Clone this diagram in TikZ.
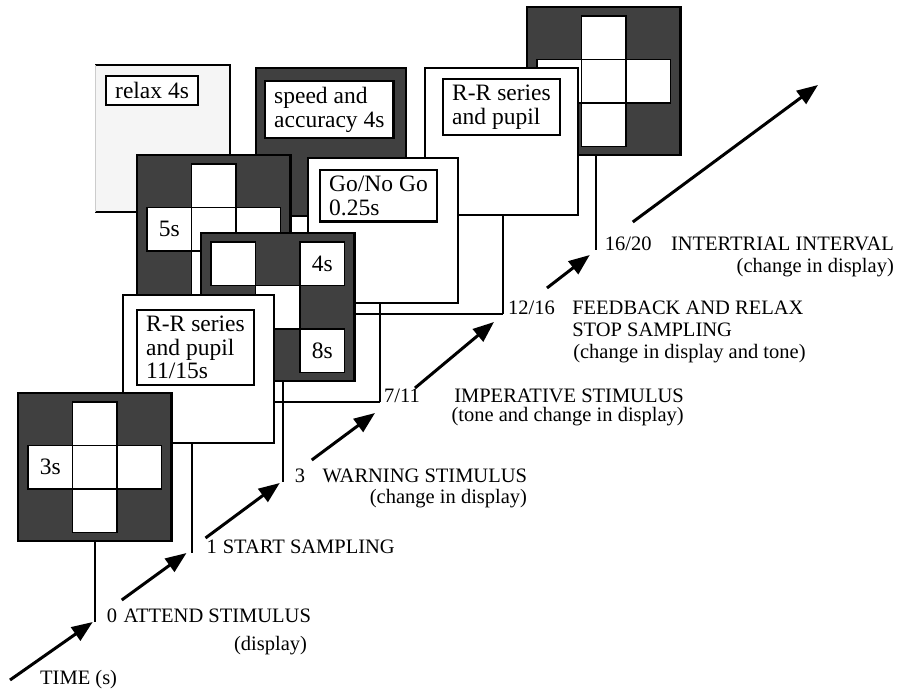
\documentclass[tikz,border=0pt]{standalone}
\usepackage{fontspec}
\setmainfont{Liberation Serif}
\usetikzlibrary{arrows.meta,positioning}

\definecolor{stipple}{gray}{0.25}
\definecolor{speckle}{gray}{0.96}

\pgfdeclarelayer{background}
\pgfsetlayers{background,main}

\tikzset{
  card/.style={draw, fill=white, line width=1.8pt, inner sep=0pt, outer sep=0pt, anchor=north west, minimum width=151pt, minimum height=148pt},
  darkcard/.style={card, fill=stipple, line width=2.2pt},
  gridframe/.style={darkcard, minimum width=153.5pt, minimum height=148pt},
  gridcell/.style={draw, fill=white, line width=1.5pt, inner sep=0pt, outer sep=0pt, anchor=north west, minimum width=44.5pt, minimum height=43.5pt},
  labelbox/.style={draw, fill=white, line width=2.4pt, anchor=north west, align=left, inner xsep=9pt, inner ysep=6pt, font=\fontsize{23.5}{23.5}\selectfont},
  celltext/.style={font=\fontsize{23.5}{23.5}\selectfont, inner sep=0pt},
  tick/.style={line width=2pt},
  timearrow/.style={line width=3pt, -{Triangle[length=21pt,width=16pt]}},
  tlabel/.style={font=\fontsize{20.5}{22}\selectfont, inner sep=0pt},
}

% display grid: name, top left corner, white cells as col/row
\newcommand{\dispgrid}[3]{%
  \node[gridframe] (#1) at (#2) {};
  \foreach \cx/\cy in {#3}
    \node[gridcell] (#1-\cx\cy) at ([shift={(10+44.5*\cx,9+43.5*\cy)}]#1.north west) {};
}

\begin{document}
\begin{tikzpicture}[x=1pt, y=-1pt]
\useasboundingbox (0,0) rectangle (903,691);

% cards, back to front
\node[card, draw=none, fill=speckle, minimum width=135pt, minimum height=147pt] (relax) at (95,65) {};
\draw[line width=1.8pt] (relax.north west) -- (relax.north east) -- (relax.south east) -- (relax.south west);
\draw[gray!40] (relax.south west) -- (relax.north west);
\node[labelbox] at ([shift={(10,10)}]relax.north west) {relax 4s};

\node[darkcard, minimum width=150pt] (speed) at (256,68) {};
\node[labelbox] at ([shift={(8,12)}]speed.north west) {speed and\\accuracy 4s};

\dispgrid{gtop}{527,7}{1/0,0/1,1/1,2/1,1/2}

\node[card, minimum width=153pt, minimum height=147pt] (rrup) at (425,68) {};
\node[labelbox] at ([shift={(17,10)}]rrup.north west) {R-R series\\and pupil};

\node[card, minimum width=150pt, minimum height=145pt] (gonogo) at (308,158) {};
\node[labelbox] at ([shift={(11,11)}]gonogo.north west) {Go/No Go\\0.25s};

\dispgrid{g5}{137,155}{1/0,0/1,1/1,2/1,1/2}
\node[celltext] at (g5-01) {5s};

\dispgrid{g4}{201,233}{0/0,2/0,1/1,0/2,2/2}
\node[celltext] at (g4-20) {4s};
\node[celltext] at (g4-22) {8s};

\node[card] (rrlow) at (123,295) {};
\node[labelbox] at ([shift={(13,14)}]rrlow.north west) {R-R series\\and pupil\\11/15s};

\dispgrid{g3}{18,393}{1/0,0/1,1/1,2/1,1/2}
\node[celltext] at (g3-01) {3s};

% ticks down to the time line
\draw[tick] (g3.south) -- ++(0,81) coordinate (t0);
\draw[tick] ([xshift=-7pt]rrlow.south) -- ++(0,110) coordinate (t1);
\draw[tick] ([xshift=5pt]g4.south) -- ++(0,101) coordinate (t3);
\draw[tick] ([xshift=-3pt]gonogo.south) -- ++(0,99) coordinate (t7);
\draw[tick] ([xshift=1.5pt]rrup.south) -- ++(0,99) coordinate (t12);
\draw[tick] ([xshift=-8pt]gtop.south) -- ++(0,95) coordinate (t16);

% leaders running behind the cards
\begin{pgfonlayer}{background}
\draw[tick] (g5.south) |- (t7);
\draw[tick] (relax.south) |- (t12);
\end{pgfonlayer}

% time line
\coordinate (start) at (10,680);
\coordinate (end) at (818,85);
\draw[timearrow] (start) -- ([shift={(-2,0)}]t0);
\draw[timearrow] ([shift={(27,-22)}]t0) -- ([shift={(-5,0)}]t1);
\draw[timearrow] ([shift={(14,-15)}]t1) -- ([shift={(-3,1)}]t3);
\draw[timearrow] ([shift={(29,-22)}]t3) -- ([shift={(-5,11)}]t7);
\draw[timearrow] ([shift={(35,-14)}]t7) -- ([shift={(-9,8)}]t12);
\draw[timearrow] ([shift={(44,-26)}]t12) -- ([shift={(-6,5)}]t16);
\draw[timearrow] ([shift={(37,-28)}]t16) -- (end);

% labels
\node[tlabel, anchor=base west] (time) at (40,684) {TIME (s)};

\node[tlabel, anchor=base west] (n0) at ([xshift=12pt]t0) {0};
\node[tlabel, anchor=base west] (w0) at ([xshift=6pt]n0.base east) {ATTEND STIMULUS};
\node[tlabel, anchor=base east] at ([shift={(-4,28)}]w0.base east) {(display)};

\node[tlabel, anchor=base west] (n1) at ([xshift=15pt]t1) {1};
\node[tlabel, anchor=base west] (w1) at ([xshift=5.5pt]n1.base east) {START SAMPLING};

\node[tlabel, anchor=base west] (n3) at ([xshift=12pt]t3) {3};
\node[tlabel, anchor=base west] (w3) at ([xshift=17pt]n3.base east) {WARNING STIMULUS};
\node[tlabel, anchor=base east] at ([shift={(0,21)}]w3.base east) {(change in display)};

\node[tlabel, anchor=base west] (n7) at ([xshift=4pt]t7) {7/11};
\node[tlabel, anchor=base west] (w7) at ([xshift=34pt]n7.base east) {IMPERATIVE STIMULUS};
\node[tlabel, anchor=base east] at ([shift={(0,19)}]w7.base east) {(tone and change in display)};

\node[tlabel, anchor=base west] (n12) at ([xshift=5pt]t12) {12/16};
\node[tlabel, anchor=base west] (w12) at ([xshift=17pt]n12.base east) {FEEDBACK AND RELAX};
\node[tlabel, anchor=base west] at ([shift={(0,22)}]w12.base west) {STOP SAMPLING};
\node[tlabel, anchor=base west] at ([shift={(1,44)}]w12.base west) {(change in display and tone)};

\node[tlabel, anchor=base west] (n16) at ([xshift=9pt]t16) {16/20};
\node[tlabel, anchor=base west] (w16) at ([xshift=19pt]n16.base east) {INTERTRIAL INTERVAL};
\node[tlabel, anchor=base east] at ([shift={(0,22)}]w16.base east) {(change in display)};
\end{tikzpicture}
\end{document}
